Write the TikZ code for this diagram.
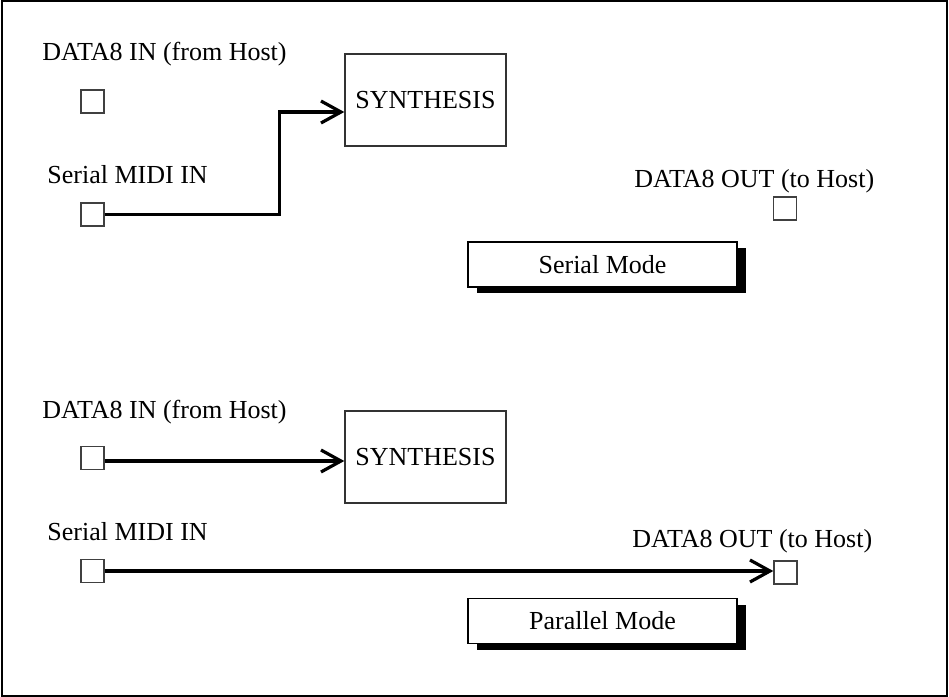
\documentclass[tikz,border=0pt]{standalone}
\usepackage{fontspec}
\setmainfont{Liberation Serif}
\usepackage{tikz}
\usetikzlibrary{arrows.meta, positioning, shadows}
\tikzstyle{port} = [rectangle, minimum width = 11.5pt, minimum height = 11.5pt,
  draw = black!75, line width = 0.7pt, inner sep = 0]
\tikzstyle{block} = [
  rectangle, minimum width = 80.5pt, minimum height = 46pt,
  draw = black!80, line width = 0.7pt, text centered
]
\tikzstyle{mode} = [
  rectangle, minimum width = 134.5pt, minimum height = 22.5pt,
  draw = black, line width = 0.7pt, fill = white,
  drop shadow = {shadow xshift = 4.5pt, shadow yshift = -3pt, fill = black,
    opacity = 1}
]
\tikzstyle{lbl} = [inner sep = 0, anchor = base west]
\tikzstyle{wire} = [line width = 1.6pt,
  -{Straight Barb[length = 10pt, width = 11pt]}]

\begin{document}
\begin{tikzpicture}[x = 0.5pt, y = -0.5pt, node distance = 0,
    font = \fontsize{13}{15}\selectfont]
      \useasboundingbox (0, 0) rectangle (949, 697);
      \draw [line width = 1pt] (1.5, 1) rectangle (947, 696);
      % serial mode
      \node [lbl] (lbl-in-a) at (42, 60) {DATA8 IN (from Host)};
      \node [port] (in-a) at (92.5, 101.5) {};
      \node [lbl] (lbl-midi-a) at (47, 183) {Serial MIDI IN};
      \node [port, below of = in-a, yshift = -56.5pt] (midi-a) {};
      \node [block] (synth-a) at (425.5, 100) {SYNTHESIS};
      \node [lbl] (lbl-out-a) at (634, 187) {DATA8 OUT (to Host)};
      \node [port] (out-a) at (785, 208.5) {};
      \node [mode] (mode-a) at (602.5, 264.5) {Serial Mode};
      % parallel mode
      \node [lbl] (lbl-in-b) at (42, 418) {DATA8 IN (from Host)};
      \node [port] (in-b) at (92.5, 458) {};
      \node [lbl] (lbl-midi-b) at (47, 540) {Serial MIDI IN};
      \node [port, below of = in-b, yshift = -56.5pt] (midi-b) {};
      \node [block] (synth-b) at (425.5, 457) {SYNTHESIS};
      \node [lbl] (lbl-out-b) at (632, 547) {DATA8 OUT (to Host)};
      \node [port] (out-b) at (785.5, 572.5) {};
      \node [mode] (mode-b) at (602.5, 621) {Parallel Mode};

      \draw [wire] (midi-a.east) -- ++(175, 0) |- ([yshift = -6pt] synth-a.west);
      \draw [wire] ([yshift = -1.5pt] in-b.east) -- ([yshift = -1.5pt] in-b.east -| synth-b.west);
      \draw [wire] (midi-b.east) -- (midi-b.east -| out-b.west);
    \end{tikzpicture}
\end{document}
